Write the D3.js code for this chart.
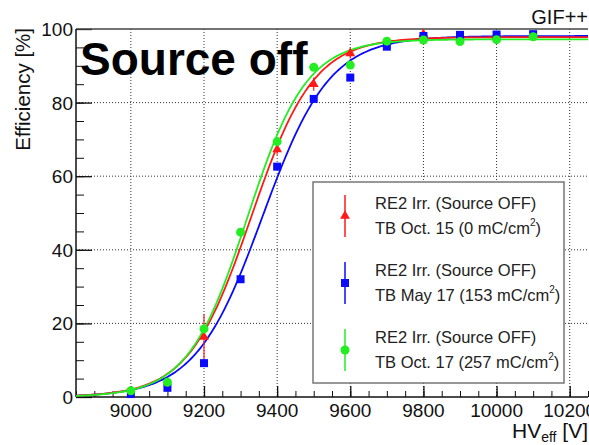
<!DOCTYPE html>
<html>
<head>
<meta charset="utf-8">
<script src="https://cdn.jsdelivr.net/npm/d3@7/dist/d3.min.js"></script>
<style>
  html, body { margin: 0; padding: 0; background: #fff; }
  svg { display: block; font-family: "Liberation Sans", Arial, Helvetica, sans-serif; }
</style>
</head>
<body>
<svg id="chart" width="589" height="445"></svg>
<script>
// Effective high voltage scan points [V]
const hvPoints = [9000, 9100, 9200, 9300, 9400, 9500, 9600, 9700, 9800, 9900, 10000, 10100];

// TB May 17 (153 mC/cm2) efficiency [%]
const effMay17 = [0.8, 2.5, 9.2, 32.0, 62.6, 81.0, 86.8, 95.2, 98.1, 98.4, 98.5, 98.6];
// TB Oct. 17 (257 mC/cm2) efficiency [%]
const effOct17 = [1.7, 4.0, 18.5, 44.8, 69.4, 89.6, 90.2, 96.7, 97.0, 96.6, 97.1, 97.9];

// TB Oct. 15 (0 mC/cm2) points with errors
const hvOct15 = [9200, 9400, 9500, 9600, 9800];
const effOct15 = [16.3, 67.3, 85.0, 93.4, 98.6];
const errOct15 = [6.2, 1.5, 1.8, 1.4, 1.0];

// Sigmoid fit parameters: [plateau, slope, HV50]
const fitOct15 = [97.8, 0.01169, 9329];
const fitMay17 = [98.1, 0.0109, 9360];
const fitOct17 = [97.2, 0.0123, 9318];

const xTicks = [9000, 9200, 9400, 9600, 9800, 10000, 10200];
const yTicks = [0, 20, 40, 60, 80, 100];

const legendLines = [
  ["RE2 Irr. (Source OFF)", "TB Oct. 15 (0 mC/cm", ")"],
  ["RE2 Irr. (Source OFF)", "TB May 17 (153 mC/cm", ")"],
  ["RE2 Irr. (Source OFF)", "TB Oct. 17 (257 mC/cm", ")"]
];

const RED = "#ff1a1a", BLUE = "#0a0aff", GREEN = "#22ee22";

const svg = d3.select("#chart");
const L = 76, R = 588, T = 29, B = 397;

const x = d3.scaleLinear().domain([8850, 10250]).range([L, R]);
const y = d3.scaleLinear().domain([0, 100]).range([B, T]);

// grid
const grid = svg.append("g").attr("stroke", "#000").attr("stroke-width", 1)
  .attr("stroke-dasharray", "1,2").attr("opacity", 0.8);
grid.selectAll("line.gx").data(xTicks).join("line")
  .attr("x1", d => x(d)).attr("x2", d => x(d)).attr("y1", T).attr("y2", B);
grid.selectAll("line.gy").data(yTicks.filter(d => d > 0 && d < 100)).join("line")
  .attr("x1", L).attr("x2", R).attr("y1", d => y(d)).attr("y2", d => y(d));

// axes with inward ticks
const xMinor = d3.range(8850, 10251, 50);
const yMinor = d3.range(0, 101, 5);

const axB = svg.append("g").attr("transform", `translate(0,${B})`)
  .call(d3.axisTop(x).tickValues(xMinor).tickSize(6).tickFormat(""));
axB.select(".domain").remove();
axB.selectAll(".tick line").attr("stroke", "#111").attr("stroke-width", 1);
const axBMaj = svg.append("g").attr("transform", `translate(0,${B})`)
  .call(d3.axisTop(x).tickValues(xTicks).tickSize(11).tickFormat(""));
axBMaj.select(".domain").remove();
axBMaj.selectAll(".tick line").attr("stroke", "#111").attr("stroke-width", 1.3);

const axL = svg.append("g").attr("transform", `translate(${L},0)`)
  .call(d3.axisRight(y).tickValues(yMinor).tickSize(8).tickFormat(""));
axL.select(".domain").remove();
axL.selectAll(".tick line").attr("stroke", "#111").attr("stroke-width", 1);
const axLMaj = svg.append("g").attr("transform", `translate(${L},0)`)
  .call(d3.axisRight(y).tickValues(yTicks).tickSize(16).tickFormat(""));
axLMaj.select(".domain").remove();
axLMaj.selectAll(".tick line").attr("stroke", "#111").attr("stroke-width", 1.3);

// frame
svg.append("line").attr("x1", L).attr("x2", R).attr("y1", T).attr("y2", T)
  .attr("stroke", "#444").attr("stroke-width", 1.3);
svg.append("line").attr("x1", L).attr("x2", L).attr("y1", T).attr("y2", B)
  .attr("stroke", "#111").attr("stroke-width", 1.5);
svg.append("line").attr("x1", L).attr("x2", R).attr("y1", B).attr("y2", B)
  .attr("stroke", "#111").attr("stroke-width", 1.5);

// tick labels
svg.append("g").selectAll("text").data(xTicks).join("text")
  .attr("x", d => x(d)).attr("y", 417).attr("text-anchor", "middle")
  .attr("font-size", 19).attr("fill", "#111").text(d => d);
svg.append("g").selectAll("text").data(yTicks).join("text")
  .attr("x", 73).attr("y", d => y(d) + 7).attr("text-anchor", "end")
  .attr("font-size", 19).attr("fill", "#111").text(d => d);

// axis titles
svg.append("text").attr("transform", "translate(30,28) rotate(-90)")
  .attr("text-anchor", "end").attr("font-size", 20.5).attr("fill", "#111")
  .text("Efficiency [%]");
const xt = svg.append("text").attr("x", 588).attr("y", 438)
  .attr("text-anchor", "end").attr("font-size", 21).attr("fill", "#111");
xt.append("tspan").text("HV");
xt.append("tspan").attr("font-size", 14).attr("dy", 4).text("eff");
xt.append("tspan").attr("dy", -4).text(" [V]");

// fitted curves
const sigmoid = p => v => p[0] / (1 + Math.exp(-p[1] * (v - p[2])));
const curveX = d3.range(8850, 10250.1, 5);
const line = d3.line().x(d => x(d[0])).y(d => y(d[1]));
const plot = svg.append("g");
[[fitMay17, BLUE], [fitOct15, RED], [fitOct17, GREEN]].forEach(([p, c]) => {
  const f = sigmoid(p);
  plot.append("path").datum(curveX.map(v => [v, f(v)]))
    .attr("d", line).attr("fill", "none").attr("stroke", c).attr("stroke-width", 1.8);
});

// markers
const tri = d3.symbol().type(d3.symbolTriangle).size(42);
const redG = plot.append("g");
redG.selectAll("line").data(hvOct15).join("line")
  .attr("x1", d => x(d)).attr("x2", d => x(d))
  .attr("y1", (d, i) => y(effOct15[i] + errOct15[i]))
  .attr("y2", (d, i) => y(effOct15[i] - errOct15[i]))
  .attr("stroke", RED).attr("stroke-width", 1.2);
redG.selectAll("path").data(hvOct15).join("path")
  .attr("d", tri).attr("fill", RED)
  .attr("transform", (d, i) => `translate(${x(d)},${y(effOct15[i])})`);

plot.append("g").selectAll("rect").data(hvPoints).join("rect")
  .attr("x", d => x(d) - 4).attr("y", (d, i) => y(effMay17[i]) - 4)
  .attr("width", 8).attr("height", 8).attr("fill", BLUE);

plot.append("g").selectAll("circle").data(hvPoints).join("circle")
  .attr("cx", d => x(d)).attr("cy", (d, i) => y(effOct17[i]))
  .attr("r", 4.5).attr("fill", GREEN);

// legend
const lg = svg.append("g");
lg.append("rect").attr("x", 313).attr("y", 182).attr("width", 251).attr("height", 201)
  .attr("fill", "#fff").attr("stroke", "#777").attr("stroke-width", 1.5);
const colors = [RED, BLUE, GREEN];
legendLines.forEach((ln, i) => {
  const cy = 216 + i * 67;
  lg.append("line").attr("x1", 345).attr("x2", 345).attr("y1", cy - 21).attr("y2", cy + 21)
    .attr("stroke", colors[i]).attr("stroke-width", 1.5);
  if (i === 0) lg.append("path").attr("d", tri).attr("fill", RED).attr("transform", `translate(345,${cy})`);
  if (i === 1) lg.append("rect").attr("x", 341).attr("y", cy - 4).attr("width", 8).attr("height", 8).attr("fill", BLUE);
  if (i === 2) lg.append("circle").attr("cx", 345).attr("cy", cy).attr("r", 4.5).attr("fill", GREEN);
  lg.append("text").attr("x", 375).attr("y", cy - 7).attr("font-size", 16.5).attr("fill", "#222").text(ln[0]);
  const t2 = lg.append("text").attr("x", 375).attr("y", cy + 18).attr("font-size", 16.5).attr("fill", "#222");
  t2.append("tspan").text(ln[1]);
  t2.append("tspan").attr("font-size", 10).attr("dy", -8).text("2");
  t2.append("tspan").attr("dy", 8).text(ln[2]);
});

// annotations
svg.append("text").attr("x", 80).attr("y", 75).attr("font-size", 46).attr("font-weight", "bold")
  .attr("fill", "#000").text("Source off");
svg.append("text").attr("x", 588).attr("y", 24).attr("text-anchor", "end")
  .attr("font-size", 20).attr("fill", "#111").text("GIF++");
</script>
</body>
</html>
